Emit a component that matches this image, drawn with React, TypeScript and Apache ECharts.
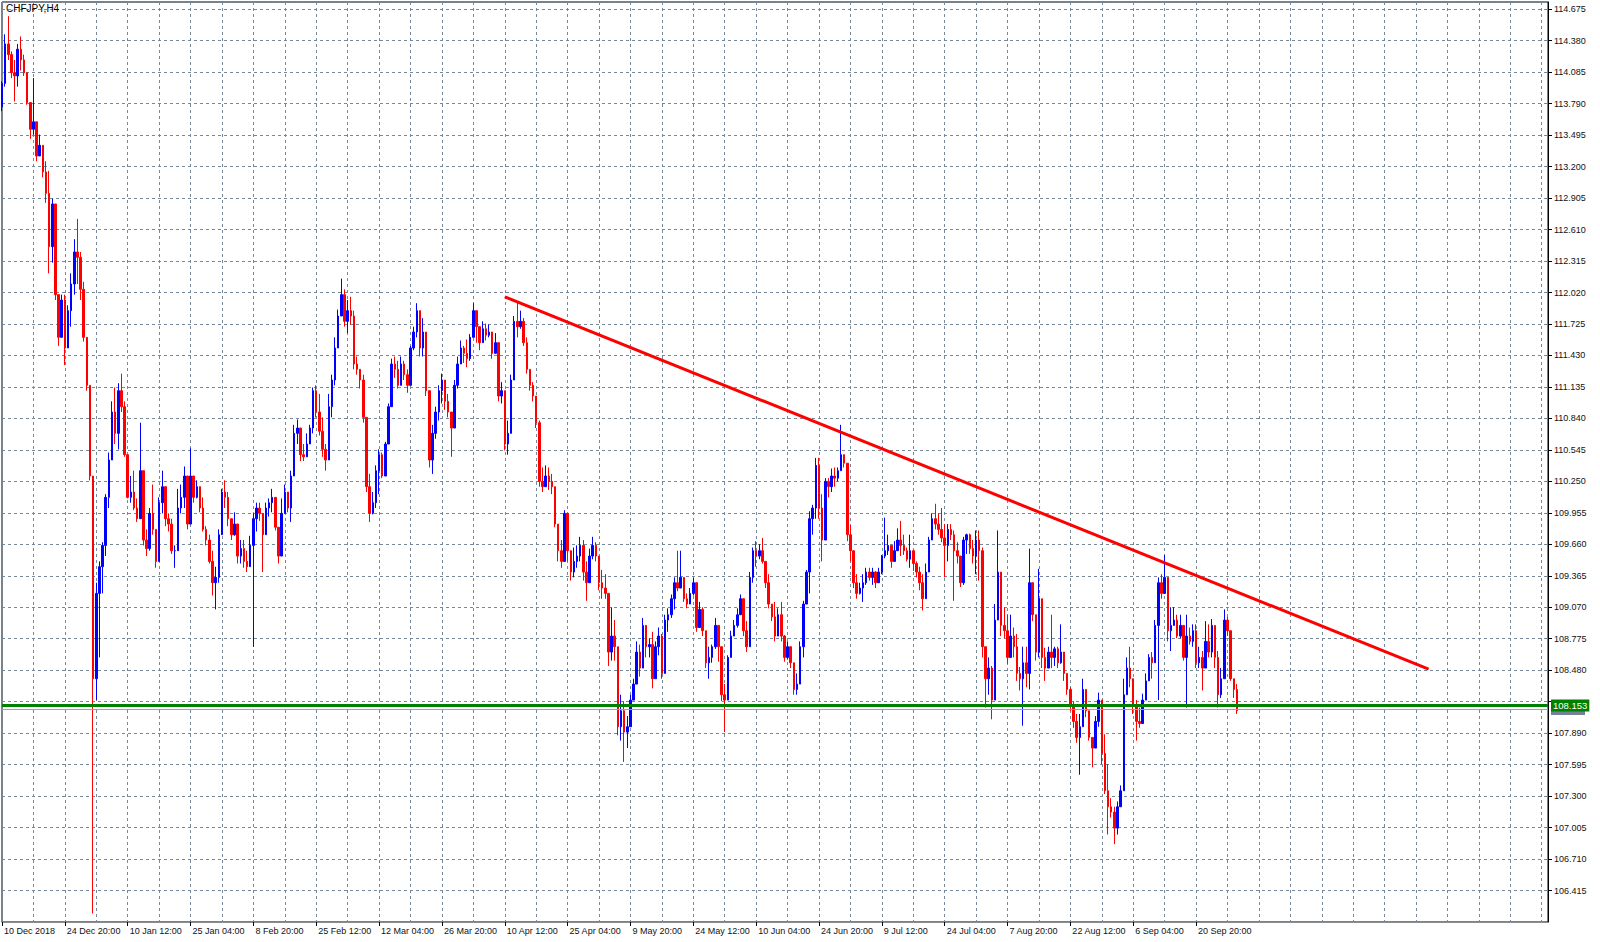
import React, { useEffect, useRef } from "react";
import * as echarts from "echarts";

const symbolTitle = "CHFJPY,H4";

const tickLabels = [
  "10 Dec 2018", "24 Dec 20:00", "10 Jan 12:00", "25 Jan 04:00", "8 Feb 20:00",
  "25 Feb 12:00", "12 Mar 04:00", "26 Mar 20:00", "10 Apr 12:00", "25 Apr 04:00",
  "9 May 20:00", "24 May 12:00", "10 Jun 04:00", "24 Jun 20:00", "9 Jul 12:00",
  "24 Jul 04:00", "7 Aug 20:00", "22 Aug 12:00", "6 Sep 04:00", "20 Sep 20:00",
];

// slots between labelled ticks / between vertical grid lines / total slots on the axis
const LABEL_STEP = 20;
const GRID_STEP = 10;
const SLOT_COUNT = 493;

const priceMin = 106.12;
const priceMax = 114.743;
const priceStep = 0.295;

const firstOpen = 113.76;

const closes = [
  113.98,114.35,114.25,114.08,114.05,114.30,114.20,114.08,113.80,113.55,
  113.62,113.30,113.40,113.15,112.95,112.45,112.85,112.00,111.60,111.95,
  111.50,111.85,112.10,112.40,112.35,112.05,111.60,111.15,110.30,108.40,
  109.20,109.45,109.65,110.10,110.45,110.90,110.70,111.10,110.95,110.50,
  110.10,110.15,110.00,109.90,110.35,109.70,109.62,109.95,109.80,109.50,
  110.05,110.20,109.90,109.85,109.60,109.60,110.00,110.10,110.30,109.85,
  110.30,110.10,110.20,110.00,109.80,109.70,109.50,109.30,109.35,109.75,
  110.15,110.10,109.90,109.75,109.85,109.55,109.62,109.50,109.45,109.65,
  109.90,110.00,109.95,109.75,110.00,110.05,110.10,109.82,109.55,109.95,
  110.15,110.00,110.30,110.70,110.75,110.50,110.48,110.60,110.75,111.10,
  110.90,110.72,110.55,110.45,110.95,111.20,111.50,111.80,112.00,111.75,
  111.85,111.80,111.35,111.30,111.20,110.85,110.20,109.95,110.05,110.35,
  110.50,110.30,110.60,110.95,111.35,111.30,111.15,111.35,111.25,111.15,
  111.50,111.65,111.85,111.50,111.65,111.10,110.45,110.70,110.90,111.10,
  111.20,111.00,110.90,110.75,111.15,111.35,111.50,111.45,111.40,111.60,
  111.85,111.70,111.55,111.68,111.62,111.65,111.45,111.55,111.05,111.10,
  110.60,110.70,111.20,111.75,111.70,111.75,111.55,111.30,111.15,111.05,
  110.80,110.25,110.20,110.30,110.25,110.20,109.85,109.60,109.50,109.95,
  109.60,109.40,109.50,109.55,109.65,109.40,109.30,109.55,109.65,109.55,
  109.30,109.25,109.20,108.65,108.80,108.70,107.95,108.10,107.90,107.95,
  108.20,108.35,108.65,108.50,108.90,108.70,108.72,108.40,108.70,108.80,
  108.45,108.95,109.00,109.15,109.30,109.25,109.35,109.15,109.10,109.20,
  109.30,108.88,109.05,108.85,108.55,108.60,108.70,108.90,108.70,108.25,
  108.20,108.60,108.80,108.90,109.00,109.15,108.85,108.70,109.35,109.60,
  109.55,109.60,109.50,109.30,109.10,108.98,108.80,109.00,108.80,108.60,
  108.70,108.55,108.30,108.35,108.70,109.10,109.40,109.90,110.00,110.40,
  110.00,109.70,110.25,110.20,110.30,110.28,110.35,110.50,110.42,109.75,
  109.60,109.30,109.20,109.25,109.30,109.40,109.35,109.40,109.30,109.40,
  109.55,109.60,109.65,109.50,109.60,109.70,109.65,109.60,109.52,109.60,
  109.48,109.40,109.30,109.15,109.40,109.70,109.90,109.85,109.80,109.72,
  109.65,109.80,109.75,109.60,109.55,109.30,109.70,109.75,109.62,109.55,
  109.70,109.60,108.70,108.40,108.50,108.20,108.95,109.40,108.90,108.85,
  108.60,108.80,108.70,108.45,108.40,108.55,108.45,109.30,109.00,108.65,
  109.15,108.60,108.50,108.65,108.60,108.68,108.55,108.65,108.45,108.30,
  108.15,108.00,107.85,107.95,108.30,108.10,107.85,107.75,108.00,108.20,
  107.70,107.35,107.20,107.15,107.00,107.20,107.35,108.25,108.50,108.40,
  108.15,108.00,107.98,108.20,108.38,108.60,108.55,108.90,109.30,109.20,
  109.35,108.85,108.90,108.95,108.80,108.90,108.60,108.80,108.75,108.85,
  108.55,108.60,108.50,108.75,108.65,108.90,108.60,108.25,108.40,108.95,
  108.85,108.40,108.30,108.10,
];

const highs = [
  114.00,114.44,114.61,114.28,114.20,114.35,114.42,114.25,113.98,113.78,
  114.03,113.55,113.50,113.35,113.25,113.16,112.90,112.85,112.00,112.00,
  112.00,111.90,112.20,112.52,112.71,112.40,112.12,111.56,111.13,110.30,
  109.30,109.50,109.68,110.13,110.52,111.00,111.13,111.17,111.26,111.00,
  110.48,110.30,110.35,110.09,110.80,110.35,109.80,110.00,110.22,109.80,
  110.10,110.35,110.20,109.95,109.90,109.65,110.18,110.22,110.39,110.20,
  110.56,110.30,110.26,110.18,110.10,109.83,109.75,109.60,109.45,109.80,
  110.18,110.26,110.15,109.90,109.96,109.85,109.70,109.70,109.60,109.74,
  109.95,110.05,110.05,109.95,110.05,110.09,110.18,110.10,109.80,110.09,
  110.22,110.15,110.35,110.78,110.83,110.70,110.60,110.70,110.78,111.13,
  111.15,111.07,110.85,110.60,111.07,111.25,111.60,111.86,112.15,112.05,
  111.95,111.98,111.85,111.42,111.30,111.25,110.80,110.32,110.15,110.40,
  110.55,110.52,110.62,110.98,111.40,111.42,111.38,111.42,111.38,111.30,
  111.52,111.70,111.92,111.80,111.78,111.60,111.00,110.78,110.95,111.15,
  111.26,111.15,111.07,110.88,111.20,111.42,111.57,111.52,111.58,111.63,
  111.92,111.80,111.68,111.75,111.73,111.72,111.60,111.64,111.55,111.18,
  111.05,110.82,111.25,111.80,111.93,111.85,111.78,111.60,111.30,111.18,
  111.02,110.82,110.38,110.40,110.38,110.32,110.20,109.85,109.70,109.98,
  109.85,109.60,109.63,109.65,109.73,109.70,109.50,109.62,109.73,109.68,
  109.45,109.42,109.38,109.20,109.07,108.95,108.60,108.25,108.19,108.05,
  108.25,108.40,108.75,108.72,108.97,108.85,108.78,108.84,108.75,108.88,
  108.82,109.00,109.06,109.19,109.35,109.60,109.60,109.30,109.20,109.25,
  109.35,109.25,109.12,109.07,108.80,108.70,108.72,108.97,108.85,108.70,
  108.35,108.62,108.85,108.95,109.06,109.19,109.12,108.94,109.40,109.63,
  109.69,109.66,109.72,109.50,109.38,109.10,109.12,109.06,109.12,108.81,
  108.75,108.65,108.55,108.45,108.75,109.13,109.42,109.97,110.03,110.47,
  110.47,110.13,110.28,110.28,110.37,110.38,110.38,110.78,110.50,110.32,
  109.84,109.56,109.38,109.30,109.38,109.44,109.44,109.44,109.41,109.44,
  109.56,109.91,109.75,109.63,109.69,109.81,109.88,109.75,109.63,109.75,
  109.55,109.50,109.45,109.38,109.48,109.73,109.95,110.04,109.95,110.00,
  109.85,109.85,109.85,109.79,109.68,109.50,109.73,109.76,109.76,109.70,
  109.79,109.79,109.63,108.60,108.60,108.52,109.10,109.79,109.25,109.07,
  109.00,109.00,108.88,108.82,108.51,108.70,108.70,109.62,109.30,108.95,
  109.43,108.73,108.69,108.70,109.00,108.70,108.70,108.91,108.57,108.42,
  108.32,108.19,108.07,108.07,108.40,108.26,108.04,107.85,108.05,108.27,
  108.07,107.88,107.60,107.28,107.20,107.25,107.40,108.40,108.60,108.70,
  108.32,108.20,108.13,108.26,108.45,108.63,108.65,108.95,109.35,109.38,
  109.56,109.20,109.07,109.07,109.00,109.00,108.85,109.00,108.88,108.91,
  108.91,108.70,108.66,108.94,108.91,108.96,108.70,108.66,108.50,109.05,
  108.98,108.85,108.38,108.35,
];

const lows = [
  113.72,113.95,114.20,114.03,113.81,113.95,114.10,114.05,113.78,113.46,
  113.50,113.25,113.30,113.10,112.86,112.20,112.30,111.95,111.52,111.60,
  111.34,111.50,111.70,112.00,112.10,111.95,111.56,111.10,110.26,106.20,
  108.20,108.60,109.20,109.55,110.00,110.60,110.60,110.55,110.90,110.48,
  110.09,110.05,109.98,109.87,109.90,109.65,109.55,109.60,109.75,109.44,
  109.50,109.95,109.83,109.78,109.57,109.44,109.60,109.95,110.00,109.80,
  110.00,110.05,110.09,109.96,109.78,109.65,109.48,109.18,109.05,109.30,
  109.75,110.00,109.83,109.70,109.74,109.48,109.48,109.44,109.40,109.48,
  108.70,109.78,109.88,109.40,109.80,109.92,109.96,109.79,109.48,109.60,
  110.00,109.96,109.87,110.30,110.60,110.44,110.44,110.48,110.60,110.70,
  110.85,110.68,110.48,110.35,110.45,110.85,111.15,111.50,111.80,111.70,
  111.64,111.72,111.30,111.25,111.12,110.80,110.15,109.87,109.94,110.00,
  110.13,110.28,110.30,110.60,110.95,111.22,111.12,111.15,111.20,111.08,
  111.15,111.48,111.60,111.42,111.42,111.05,110.38,110.32,110.65,110.82,
  110.98,110.92,110.85,110.48,110.75,111.12,111.35,111.36,111.32,111.38,
  111.60,111.55,111.48,111.55,111.57,111.60,111.40,111.45,111.00,110.98,
  110.54,110.50,110.75,111.20,111.60,111.68,111.52,111.26,111.10,111.00,
  110.75,110.20,110.15,110.20,110.17,110.13,109.82,109.50,109.44,109.57,
  109.50,109.32,109.35,109.44,109.50,109.32,109.13,109.35,109.52,109.50,
  109.23,109.15,109.15,108.52,108.57,108.57,107.87,107.82,107.62,107.75,
  107.95,108.20,108.35,108.42,108.50,108.60,108.60,108.31,108.45,108.62,
  108.40,108.45,108.84,108.97,109.05,109.22,109.25,109.12,109.06,109.10,
  109.18,108.84,108.95,108.80,108.50,108.40,108.55,108.68,108.56,108.19,
  107.90,108.25,108.60,108.80,108.88,109.00,108.80,108.65,108.70,109.30,
  109.45,109.52,109.48,109.25,109.06,108.94,108.75,108.80,108.75,108.56,
  108.58,108.50,108.25,108.25,108.35,108.60,109.10,109.20,109.75,109.90,
  109.90,109.50,109.80,110.10,110.15,110.20,110.25,110.35,110.38,109.69,
  109.50,109.25,109.15,109.19,109.12,109.28,109.32,109.28,109.25,109.30,
  109.38,109.53,109.56,109.44,109.50,109.60,109.55,109.56,109.50,109.44,
  109.41,109.35,109.23,109.04,109.15,109.40,109.70,109.80,109.75,109.68,
  109.35,109.50,109.70,109.13,109.48,109.26,109.28,109.57,109.57,109.48,
  109.38,109.32,108.60,108.13,108.25,108.02,108.20,108.95,108.80,108.78,
  108.54,108.63,108.60,108.38,108.29,107.96,108.32,108.30,108.94,108.57,
  108.60,108.50,108.38,108.50,108.50,108.52,108.50,108.54,108.38,108.25,
  108.10,107.94,107.80,107.50,107.95,108.04,107.82,107.57,107.75,107.95,
  107.60,107.32,106.94,107.10,106.85,106.94,107.20,107.35,108.30,108.32,
  108.07,107.82,107.94,108.00,108.20,108.38,108.40,108.55,108.20,109.15,
  109.20,108.75,108.66,108.94,108.78,108.78,108.57,108.13,108.72,108.70,
  108.50,108.50,108.29,108.60,108.60,108.60,108.50,108.13,108.22,108.47,
  108.80,108.38,108.22,108.07,
];

// trend line: [slot index, price]
const trendLine = [
  [160, 111.98],
  [454, 108.49],
];

const supportLevel = 108.153;
const bidLevel = 108.108;

const FONT = '"Liberation Sans", Arial, sans-serif';

function buildOption() {
  const categories = Array.from({ length: SLOT_COUNT }, (_, i) => String(i));
  const candles = closes.map((c, i) => {
    const o = i === 0 ? firstOpen : closes[i - 1];
    const h = Math.max(highs[i], o, c);
    const l = Math.min(lows[i], o, c);
    return [o, c, l, h];
  });
  const labelled = (i: number) =>
    i % LABEL_STEP === 0 && i / LABEL_STEP < tickLabels.length;

  return {
    animation: false,
    backgroundColor: "#ffffff",
    title: {
      text: symbolTitle,
      left: 6,
      top: 3,
      padding: 0,
      textStyle: { fontSize: 10, fontWeight: "normal", color: "#000", fontFamily: FONT },
    },
    grid: {
      left: 2,
      right: 52,
      top: 2,
      bottom: 20,
      show: true,
      borderColor: "#000",
      borderWidth: 1,
      backgroundColor: "transparent",
    },
    xAxis: {
      type: "category",
      data: categories,
      boundaryGap: false,
      axisLine: { show: true, lineStyle: { color: "#8c8c8c", width: 1 } },
      axisTick: {
        show: true,
        length: 4,
        interval: (i: number) => labelled(i),
        lineStyle: { color: "#000" },
      },
      axisLabel: {
        interval: (i: number) => labelled(i),
        formatter: (_v: string, i: number) =>
          labelled(i) ? tickLabels[i / LABEL_STEP] : "",
        align: "left",
        margin: 4,
        padding: [0, 0, 0, 2],
        fontSize: 9,
        color: "#111",
        fontFamily: FONT,
      },
      splitLine: {
        show: true,
        interval: (i: number) => i % GRID_STEP === 0,
        lineStyle: { color: "#778899", width: 1, type: [3, 3] },
      },
    },
    yAxis: {
      type: "value",
      position: "right",
      min: priceMin,
      max: priceMax,
      interval: priceStep,
      scale: true,
      axisLine: { show: true, lineStyle: { color: "#000", width: 1 } },
      axisTick: { show: true, length: 4, lineStyle: { color: "#000" } },
      axisLabel: {
        showMinLabel: false,
        showMaxLabel: false,
        // the tick label right under the green level box is covered by it in the reference
        formatter: (v: number) =>
          Math.abs(v - supportLevel) < priceStep / 2 ? "" : v.toFixed(3),
        margin: 6,
        fontSize: 9,
        color: "#111",
        fontFamily: FONT,
      },
      splitLine: {
        show: true,
        lineStyle: { color: "#778899", width: 1, type: [3, 3] },
      },
    },
    series: [
      {
        type: "candlestick",
        data: candles,
        barWidth: 2,
        itemStyle: {
          color: "#0000ff",
          color0: "#ff0000",
          borderColor: "#0000ff",
          borderColor0: "#ff0000",
          borderWidth: 1,
        },
        markLine: {
          silent: true,
          symbol: ["none", "none"],
          animation: false,
          data: [
            {
              yAxis: bidLevel,
              lineStyle: { color: "#9aa3ae", width: 1, type: "solid" },
              label: { show: false },
            },
            {
              yAxis: supportLevel,
              lineStyle: { color: "#008000", width: 3, type: "solid" },
              label: {
                show: true,
                position: "end",
                distance: 3,
                formatter: supportLevel.toFixed(3),
                color: "#ffffff",
                backgroundColor: "#008000",
                padding: [1, 2, 1, 2],
                fontSize: 9.5,
                fontFamily: FONT,
              },
            },
          ],
        },
      },
      {
        type: "line",
        data: trendLine,
        symbol: "none",
        silent: true,
        lineStyle: { color: "#ff0000", width: 3 },
        z: 3,
      },
    ],
  };
}

export default function App() {
  const ref = useRef<HTMLDivElement>(null);
  useEffect(() => {
    if (!ref.current) return;
    const chart = echarts.init(ref.current, null, { renderer: "svg" });
    chart.setOption(buildOption() as any);
    // small grey bid box partly hidden behind the green level label
    const yBid = chart.convertToPixel({ yAxisIndex: 0 }, bidLevel) as number;
    const xRight = chart.convertToPixel({ xAxisIndex: 0 }, SLOT_COUNT - 1) as number;
    if (isFinite(yBid) && isFinite(xRight)) {
      chart.setOption({
        graphic: [
          {
            type: "rect",
            z: 1,
            silent: true,
            shape: { x: xRight + 3, y: yBid - 4, width: 34, height: 9 },
            style: { fill: "#738396" },
          },
        ],
      });
    }
    return () => chart.dispose();
  }, []);
  return (
    <div
      ref={ref}
      style={{ position: "fixed", left: 0, top: 0, width: 1600, height: 942, background: "#fff" }}
    />
  );
}
